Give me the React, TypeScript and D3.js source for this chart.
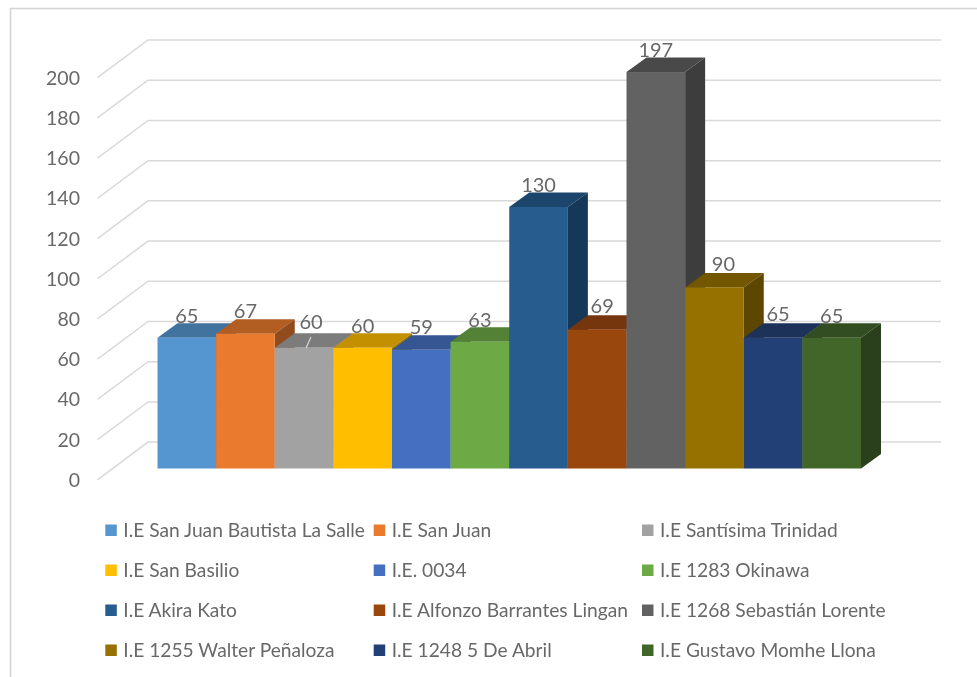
import React from "react";
import * as d3 from "d3";

const schools = [
  "I.E San Juan Bautista La Salle", "I.E San Juan", "I.E Santísima Trinidad",
  "I.E San Basilio", "I.E. 0034", "I.E 1283 Okinawa",
  "I.E Akira Kato", "I.E Alfonzo Barrantes Lingan", "I.E 1268 Sebastián Lorente",
  "I.E 1255 Walter Peñaloza", "I.E 1248 5 De Abril", "I.E Gustavo Momhe Llona",
];
const students = [65, 67, 60, 60, 59, 63, 130, 69, 197, 90, 65, 65];
const colors = ["#5796D0", "#EA7A2E", "#A2A2A2", "#FFBE00", "#4470C2", "#6DAA45", "#255B8E", "#9A460D", "#626262", "#967100", "#233F74", "#42662A"];
const ticks = [0, 20, 40, 60, 80, 100, 120, 140, 160, 180, 200];
// hand-placed label nudges seen in the reference, as [dx, dy]
const labelNudge = [[0, 0], [0, -1], [7, -4], [0, 0], [0, -1], [0, 0], [0, 0], [5, -2], [0, 0], [9, -1], [5, -2], [0, 0]];

const W = 977, H = 677;
const FONT = "Lato, 'Open Sans', sans-serif";
const TXT = "#686868";

const y = d3.scaleLinear().domain([0, 200]).range([468.5, 66]);
const x = d3.scaleBand<number>().domain(d3.range(schools.length)).range([157.5, 861]).padding(0);
const gridFront = d3.scaleLinear().domain([0, 200]).range([479.8, 77.7]);
const BAR_DX = 20, BAR_DY = -14.5, GRID_DX = 50.5, GRID_DY = -37.7, GRID_RIGHT = 941;

const poly = (pts: [number, number][]) => d3.line()(pts)! + "Z";
const shade = (c: string, k: number) => {
  const r = d3.rgb(c);
  return d3.rgb(r.r * k, r.g * k, r.b * k).formatHex();
};

const legendX = [105.3, 373.7, 642];
const legendY = [530, 570, 610, 650];

export default function App() {
  const bw = x.bandwidth();
  return (
    <svg width={W} height={H} viewBox={`0 0 ${W} ${H}`} style={{ position: "absolute", left: 0, top: 0, background: "#fff" }}>
      <defs>
        <filter id="soft" x="-2%" y="-2%" width="104%" height="104%">
          <feGaussianBlur stdDeviation="0.55" />
        </filter>
      </defs>
      <g filter="url(#soft)">
        <path d={`M10.5 ${H}V8.5H${W}`} fill="none" stroke="#d4d4d4" strokeWidth={1.6} />
        {ticks.map((t) => {
          const fy = gridFront(t);
          return (
            <g key={t}>
              <path
                d={d3.line()([[97.5, fy], [97.5 + GRID_DX, fy + GRID_DY], [GRID_RIGHT, fy + GRID_DY]])!}
                fill="none" stroke="#d9d9d9" strokeWidth={1.5}
              />
              <text x={80} y={fy + 7} textAnchor="end" fontFamily={FONT} fontSize={19.5} fill={TXT}>{t}</text>
            </g>
          );
        })}
        {students.map((v, i) => {
          const x0 = x(i)!, x1 = x0 + bw, yt = y(v), yb = y(0);
          return (
            <g key={i}>
              <path d={poly([[x0, yt], [x1, yt], [x1 + BAR_DX, yt + BAR_DY], [x0 + BAR_DX, yt + BAR_DY]])} fill={shade(colors[i], 0.76)} />
              <path d={poly([[x1, yt], [x1 + BAR_DX, yt + BAR_DY], [x1 + BAR_DX, yb + BAR_DY], [x1, yb]])} fill={shade(colors[i], 0.62)} />
              <rect x={x0} y={yt} width={bw} height={yb - yt} fill={colors[i]} />
            </g>
          );
        })}
        <path d={d3.line()([[306, 348], [311, 337]])!} stroke="#d9d9d9" strokeWidth={1.2} fill="none" />
        {students.map((v, i) => (
          <text
            key={i}
            x={x(i)! + bw / 2 + labelNudge[i][0]}
            y={y(v) + BAR_DY - 0.5 + labelNudge[i][1]}
            textAnchor="middle" fontFamily={FONT} fontSize={20} fill={TXT}
          >{v}</text>
        ))}
        {schools.map((s, i) => {
          const lx = legendX[i % 3], ly = legendY[Math.floor(i / 3)];
          return (
            <g key={s}>
              <rect x={lx} y={ly - 5.5} width={11.5} height={11.5} fill={colors[i]} />
              <text x={lx + 18} y={ly + 6.5} fontFamily={FONT} fontSize={19.2} fill={TXT}>{s}</text>
            </g>
          );
        })}
      </g>
    </svg>
  );
}
